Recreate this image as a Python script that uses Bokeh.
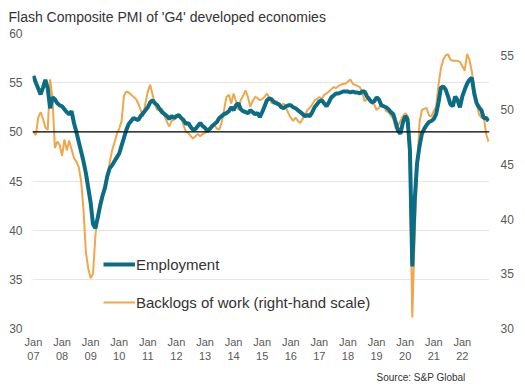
from bokeh.plotting import figure
from bokeh.models import (Range1d, LinearAxis, FixedTicker, Span, Legend,
                          LegendItem, Title, ColumnDataSource)
from bokeh.embed import file_html
from bokeh.resources import INLINE

# Monthly data, Jan 2007 .. Dec 2022
employment = [
    55.7, 55.0, 54.4, 53.8, 54.5, 55.3, 54.4, 52.4, 53.5, 53.3, 52.9, 52.7,  # 2007
    52.6, 52.3, 52.0, 51.8, 52.1, 50.9, 50.0, 49.0, 48.0, 47.0, 45.8, 44.3,  # 2008
    42.8, 40.6, 40.2, 41.3, 42.5, 43.5, 44.3, 45.5, 46.3, 46.6, 47.0, 47.4,  # 2009
    47.8, 48.6, 49.4, 50.2, 50.8, 51.1, 51.4, 51.3, 51.2, 51.6, 51.9, 52.2,  # 2010
    52.5, 53.0, 53.2, 52.9, 52.7, 52.3, 52.0, 51.8, 51.6, 51.3, 51.6, 51.4,  # 2011
    51.6, 51.7, 51.4, 51.2, 50.8, 50.9, 50.5, 50.2, 50.3, 50.6, 50.9, 50.6,  # 2012
    50.4, 50.1, 50.3, 50.6, 50.8, 51.0, 51.4, 51.6, 51.8, 51.9, 52.1, 52.5,  # 2013
    52.2, 52.7, 52.9, 52.3, 52.1, 52.0, 51.9, 52.2, 52.0, 51.8, 51.9, 51.5,  # 2014
    52.0, 52.6, 53.2, 53.4, 53.3, 53.0, 52.9, 52.8, 52.5, 52.4, 52.6, 52.7,  # 2015
    52.7, 52.5, 52.4, 52.2, 52.0, 51.8, 51.6, 51.7, 51.6, 52.0, 52.5, 52.8,  # 2016
    53.1, 53.2, 52.9, 52.6, 53.0, 53.5, 53.7, 53.9, 53.9, 54.0, 54.1, 54.1,  # 2017
    54.1, 54.0, 54.1, 54.0, 54.0, 53.9, 54.1, 54.1, 53.6, 53.3, 53.0, 53.1,  # 2018
    53.5, 53.3, 52.7, 52.6, 52.5, 52.3, 52.0, 51.8, 51.0, 50.1, 49.8, 50.9,  # 2019
    51.6, 51.3, 48.2, 36.3, 43.0, 46.8, 48.5, 49.8, 50.3, 50.7, 51.0, 51.1,  # 2020
    51.3, 51.8, 53.0, 54.5, 54.6, 54.3, 53.6, 52.8, 52.6, 53.6, 53.2, 52.5,  # 2021
    53.6, 54.3, 54.9, 55.3, 55.5, 53.9, 52.9, 52.5, 52.2, 51.4, 51.4, 51.1,  # 2022
]
backlogs = [
    48.0, 47.7, 49.3, 49.8, 49.2, 48.4, 48.2, 52.8, 51.0, 46.5, 47.1, 46.8,  # 2007
    45.8, 47.3, 46.3, 47.2, 46.4, 45.6, 45.3, 44.8, 43.5, 40.9, 37.0, 35.5,  # 2008
    34.6, 35.0, 38.5, 40.3, 41.6, 42.3, 43.0, 43.8, 45.2, 46.3, 47.0, 47.8,  # 2009
    48.3, 49.0, 51.3, 51.7, 51.6, 51.4, 51.2, 51.0, 50.6, 50.0, 49.4, 50.6,  # 2010
    51.7, 52.3, 51.4, 50.5, 50.0, 50.2, 50.1, 49.5, 48.9, 48.5, 49.0, 49.1,  # 2011
    49.3, 49.4, 49.2, 48.6, 48.0, 47.9, 47.6, 47.4, 47.6, 47.8, 47.6, 47.8,  # 2012
    47.9, 48.0, 48.3, 48.4, 48.6, 48.3, 48.2, 48.9, 50.0, 51.2, 51.4, 50.6,  # 2013
    51.5, 50.8, 50.0, 50.9, 51.3, 51.8, 51.2, 50.3, 50.8, 51.2, 51.1, 50.9,  # 2014
    51.0, 51.2, 51.5, 51.1, 50.6, 50.8, 50.8, 50.6, 50.4, 50.6, 50.2, 49.7,  # 2015
    49.3, 49.0, 49.3, 49.0, 48.8, 49.2, 49.6, 50.0, 50.2, 50.5, 50.9, 51.0,  # 2016
    51.2, 51.0, 51.4, 51.5, 51.7, 51.9, 52.1, 52.0, 52.2, 52.3, 52.4, 52.4,  # 2017
    52.6, 52.8, 52.4, 52.3, 52.2, 52.1, 51.6, 50.8, 51.0, 51.2, 50.6, 50.5,  # 2018
    50.0, 50.2, 50.6, 50.4, 49.9, 49.8, 49.5, 49.2, 48.3, 48.6, 49.0, 49.4,  # 2019
    49.7, 49.5, 44.0, 31.0, 38.5, 44.5, 48.8, 50.0, 50.1, 50.2, 49.5, 49.4,  # 2020
    49.9, 50.3, 52.3, 53.8, 54.6, 55.0, 55.1, 54.6, 54.5, 54.5, 54.5, 54.4,  # 2021
    54.0, 53.6, 55.1, 54.6, 53.5, 52.0, 50.6, 49.6, 49.3, 49.4, 47.8, 47.1,  # 2022
]
year_labels = ["07", "08", "09", "10", "11", "12", "13", "14",
               "15", "16", "17", "18", "19", "20", "21", "22"]
left_ticks = [30, 35, 40, 45, 50, 55, 60]
right_ticks = [30, 35, 40, 45, 50, 55]
title_text = "Flash Composite PMI of 'G4' developed economies"
source_text = "Source: S&P Global"

months = list(range(len(employment)))
src = ColumnDataSource(dict(m=months, emp=employment, back=backlogs))

TEAL = "#0B6C85"
ORANGE = "#F0A64A"
FONT = "Liberation Sans"

p = figure(width=525, height=388, output_backend="svg", toolbar_location=None,
           x_range=Range1d(-0.4, 191.4), y_range=Range1d(30, 60),
           min_border_left=32, min_border_right=36, min_border_top=33,
           min_border_bottom=59, outline_line_color=None)
p.extra_y_ranges = {"right": Range1d(30, 57)}

p.title.text = title_text
p.title.text_font = FONT
p.title.text_font_size = "14px"
p.title.text_font_style = "normal"
p.title.text_color = "#333333"
p.title.align = "left"
p.title.vertical_align = "top"
p.title.offset = -24
p.title.standoff = 14

# axes
xa = p.xaxis[0]
xa.ticker = FixedTicker(ticks=[12 * k for k in range(len(year_labels))])
xa.major_label_overrides = {12 * k: "Jan\n" + y for k, y in enumerate(year_labels)}
ya = p.yaxis[0]
ya.ticker = FixedTicker(ticks=left_ticks)
ra = LinearAxis(y_range_name="right", ticker=FixedTicker(ticks=right_ticks))
p.add_layout(ra, "right")

for ax, sz in ((xa, "11px"), (ya, "12px"), (ra, "12px")):
    ax.axis_line_color = None
    ax.major_tick_line_color = None
    ax.minor_tick_line_color = None
    ax.major_tick_out = 0
    ax.major_tick_in = 0
    ax.minor_tick_out = 0
    ax.minor_tick_in = 0
    ax.major_label_text_font = FONT
    ax.major_label_text_font_size = sz
    ax.major_label_text_color = "#595959"
xa.major_label_standoff = 7
ya.major_label_standoff = 10
ra.major_label_standoff = 11

p.xgrid.grid_line_color = None
p.ygrid.ticker = FixedTicker(ticks=left_ticks)
p.ygrid.grid_line_color = "#E6E6E6"

p.add_layout(Span(location=50, dimension="width", line_color="black",
                  line_width=1.3))

r_back = p.line("m", "back", source=src, y_range_name="right",
                line_color=ORANGE, line_width=2)
r_emp = p.line("m", "emp", source=src, line_color=TEAL, line_width=4)

legend = Legend(items=[LegendItem(label="Employment", renderers=[r_emp]),
                       LegendItem(label="Backlogs of work (right-hand scale)",
                                  renderers=[r_back])],
                location=(71, 16), orientation="vertical",
                background_fill_alpha=0, border_line_alpha=0,
                padding=0, margin=0, spacing=18, glyph_width=32,
                glyph_height=20, label_height=20, label_standoff=1,
                label_text_font=FONT, label_text_font_size="15px",
                label_text_color="#333333")
p.add_layout(legend, "center")

src_title = Title(text=source_text, align="right", offset=24,
                  standoff=11, text_font=FONT, text_font_size="10px",
                  text_font_style="normal", text_color="#333333")
p.add_layout(src_title, "below")

open("out.html", "w").write(file_html(p, INLINE))
